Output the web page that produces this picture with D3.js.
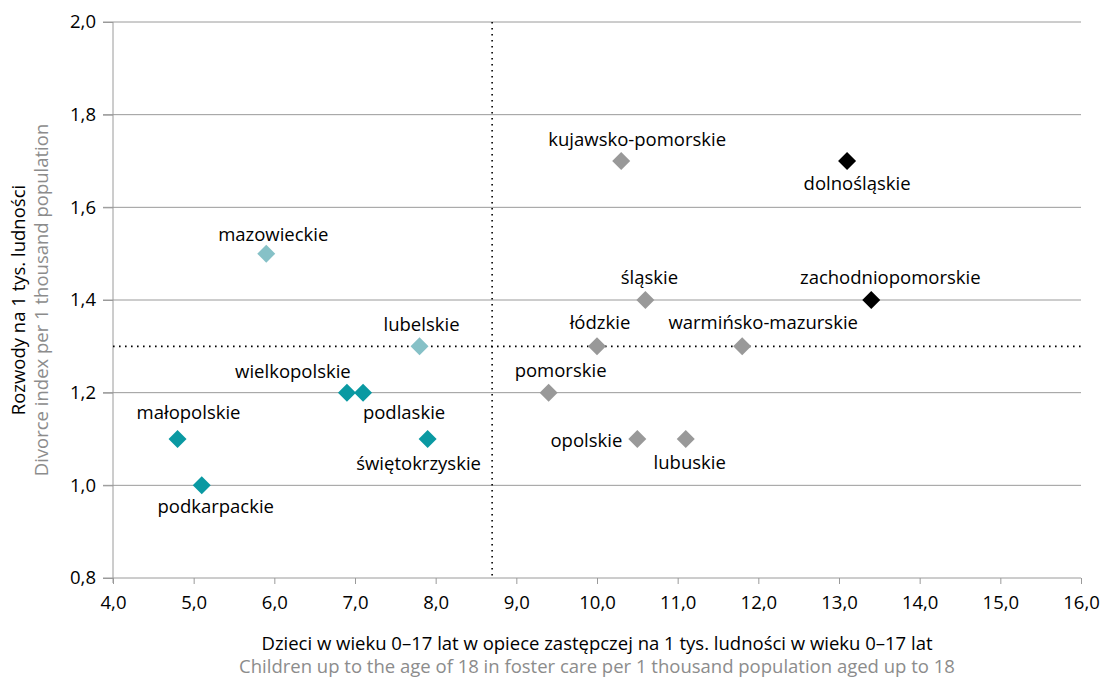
<!DOCTYPE html>
<html>
<head>
<meta charset="utf-8">
<script src="https://cdn.jsdelivr.net/npm/d3@7"></script>
<style>
  body { margin: 0; background: #fff; }
  svg text { font-family: "Open Sans", sans-serif; }
</style>
</head>
<body>
<svg id="svg1" width="1101" height="681"></svg>
<script>
//data
var regions = ["mazowieckie", "lubelskie", "wielkopolskie", "podlaskie", "małopolskie", "podkarpackie", "świętokrzyskie",
  "kujawsko-pomorskie", "dolnośląskie", "śląskie", "zachodniopomorskie", "łódzkie", "warmińsko-mazurskie",
  "pomorskie", "opolskie", "lubuskie"];
var fosterCare = [5.9, 7.8, 6.9, 7.1, 4.8, 5.1, 7.9, 10.3, 13.1, 10.6, 13.4, 10.0, 11.8, 9.4, 10.5, 11.1];
var divorces = [1.5, 1.3, 1.2, 1.2, 1.1, 1.0, 1.1, 1.7, 1.7, 1.4, 1.4, 1.3, 1.3, 1.2, 1.1, 1.1];
var groups = ["light", "light", "teal", "teal", "teal", "teal", "teal",
  "grey", "black", "grey", "black", "grey", "grey", "grey", "grey", "grey"];
var xTicks = [4, 5, 6, 7, 8, 9, 10, 11, 12, 13, 14, 15, 16];
var yTicks = [0.8, 1.0, 1.2, 1.4, 1.6, 1.8, 2.0];
var meanX = 8.7;
var meanY = 1.3;

//label placement: anchor, dx, dy (baseline) relative to marker
var labelPos = [
  ["middle", 7, -13], ["middle", 2, -15], ["middle", -54, -15], ["middle", 41, 26],
  ["middle", 11, -20], ["middle", 14, 28], ["middle", -9, 31], ["middle", 16, -15],
  ["middle", 10, 29], ["middle", 4, -16], ["middle", 19, -16], ["middle", 3, -17],
  ["middle", 21, -17], ["middle", 12, -16], ["end", -15, 8], ["middle", 4, 30]
];

var colours = { light: "#86c1c7", teal: "#0a99a2", grey: "#999999", black: "#000000" };
var fontSize = "18.5px";

var plotLeft = 113, plotRight = 1081, plotTop = 22, plotBottom = 578;
var svg = d3.select("#svg1");

var xScale = d3.scaleLinear().domain([4, 16]).range([plotLeft, plotRight]);
var yScale = d3.scaleLinear().domain([0.8, 2.0]).range([plotBottom, plotTop]);
var fmt = function(v) { return d3.format(".1f")(v).replace(".", ","); };

//grid lines
svg.append("g")
  .selectAll("line")
  .data(yTicks.slice(1))
  .enter().append("line")
    .attr("x1", plotLeft - 10).attr("x2", plotRight)
    .attr("y1", function(d) { return yScale(d); })
    .attr("y2", function(d) { return yScale(d); })
    .attr("stroke", "#9a9a9a").attr("stroke-width", 1);

//y axis
var y_axis = d3.axisLeft(yScale).tickValues(yTicks).tickFormat(fmt).tickSize(10).tickPadding(7);
var yg = svg.append("g").attr("transform", "translate(" + plotLeft + ",0)").call(y_axis);
yg.select(".domain").remove();
yg.selectAll(".tick line").attr("stroke", "#9a9a9a");
yg.selectAll("text").attr("font-size", fontSize).attr("fill", "#000");
svg.append("line")
  .attr("x1", plotLeft).attr("x2", plotLeft).attr("y1", plotTop).attr("y2", plotBottom + 5)
  .attr("stroke", "#9a9a9a");

//x axis
var x_axis = d3.axisBottom(xScale).tickValues(xTicks).tickFormat(fmt).tickSize(6).tickPadding(12);
var xg = svg.append("g").attr("transform", "translate(0," + plotBottom + ")").call(x_axis);
xg.select(".domain").attr("stroke", "#9a9a9a").attr("d", "M" + (plotLeft - 10) + ",0H" + plotRight);
xg.selectAll(".tick line").attr("stroke", "#9a9a9a");
xg.selectAll("text").attr("font-size", fontSize).attr("fill", "#000");

//mean lines
svg.append("line")
  .attr("x1", xScale(meanX)).attr("x2", xScale(meanX))
  .attr("y1", plotTop).attr("y2", plotBottom)
  .attr("stroke", "#000").attr("stroke-width", 1.6).attr("stroke-dasharray", "1.6,4.4");
svg.append("line")
  .attr("x1", plotLeft).attr("x2", plotRight)
  .attr("y1", yScale(meanY)).attr("y2", yScale(meanY))
  .attr("stroke", "#000").attr("stroke-width", 1.6).attr("stroke-dasharray", "1.6,4.4");

//markers
var diamond = d3.symbol().type(d3.symbolSquare).size(162);
svg.append("g")
  .selectAll("path")
  .data(regions)
  .enter().append("path")
    .attr("d", diamond)
    .attr("transform", function(d, i) {
      return "translate(" + xScale(fosterCare[i]) + "," + yScale(divorces[i]) + ") rotate(45)";
    })
    .style("fill", function(d, i) { return colours[groups[i]]; });

//labels
svg.append("g")
  .selectAll("text")
  .data(regions)
  .enter().append("text")
    .attr("x", function(d, i) { return xScale(fosterCare[i]) + labelPos[i][1]; })
    .attr("y", function(d, i) { return yScale(divorces[i]) + labelPos[i][2]; })
    .attr("text-anchor", function(d, i) { return labelPos[i][0]; })
    .attr("font-size", fontSize)
    .text(function(d) { return d; });

//axis titles
svg.append("text")
  .attr("x", 597).attr("y", 650).attr("text-anchor", "middle")
  .attr("font-size", fontSize).attr("fill", "#000")
  .text("Dzieci w wieku 0–17 lat w opiece zastępczej na 1 tys. ludności w wieku 0–17 lat");
svg.append("text")
  .attr("x", 597).attr("y", 673).attr("text-anchor", "middle")
  .attr("font-size", fontSize).attr("fill", "#8c8c8c")
  .text("Children up to the age of 18 in foster care per 1 thousand population aged up to 18");
svg.append("text")
  .attr("transform", "translate(25,300) rotate(-90)").attr("text-anchor", "middle")
  .attr("font-size", fontSize).attr("fill", "#000")
  .text("Rozwody na 1 tys. ludności");
svg.append("text")
  .attr("transform", "translate(48,300) rotate(-90)").attr("text-anchor", "middle")
  .attr("font-size", fontSize).attr("fill", "#8c8c8c")
  .text("Divorce index per 1 thousand population");
</script>
</body>
</html>
